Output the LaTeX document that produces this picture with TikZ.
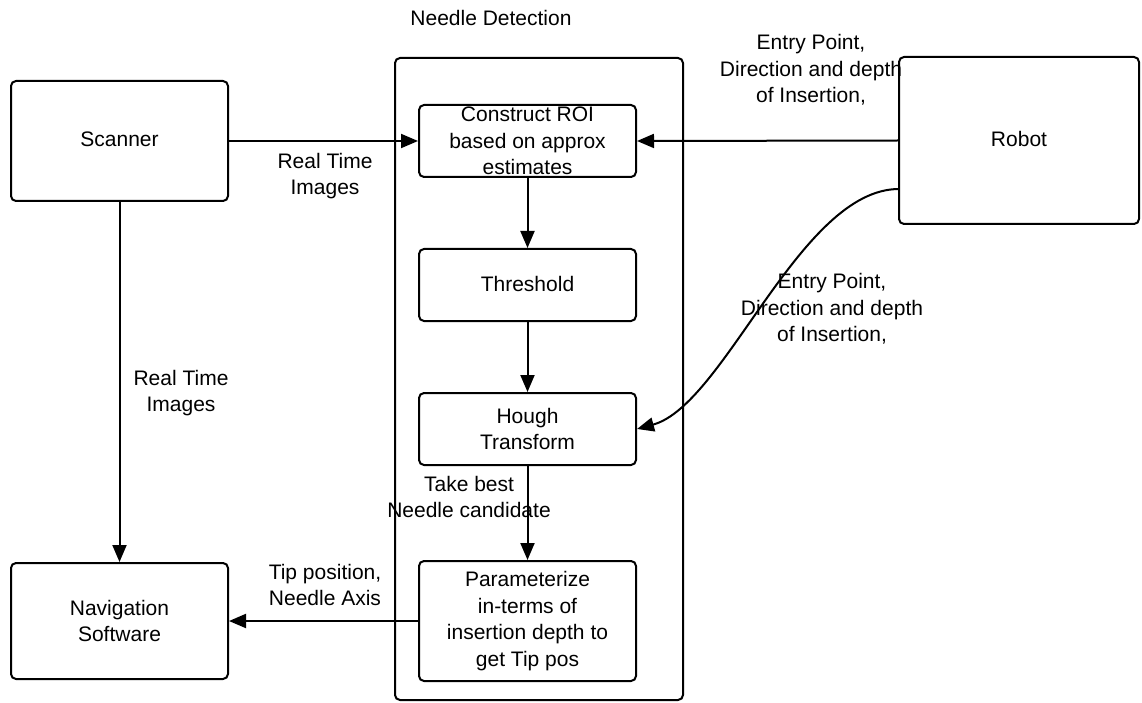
\documentclass[tikz,border=0pt]{standalone}
\usepackage{fontspec}
\setmainfont{Liberation Sans}
\usetikzlibrary{arrows.meta}
\tikzset{
  box/.style={draw, line width=2pt, rounded corners=5pt, align=center, inner sep=0pt},
  lbl/.style={align=center, inner sep=0pt},
  conn/.style={line width=2pt, -{Triangle[length=17pt,width=14pt]}},
}
\begin{document}
\begin{tikzpicture}[x=1pt,y=-1pt, font=\fontsize{21}{26.5}\selectfont]
\useasboundingbox (0,0) rectangle (1142,703);
% container
\node[box, minimum width=288pt, minimum height=642pt] (nd) at (539,379) {};
\node[lbl] (ndt) at (491,18) {Needle Detection};
% boxes
\node[box, minimum width=217pt, minimum height=120pt] (scan) at (119.5,141) {\raisebox{3pt}{Scanner}};
\node[box, minimum width=217pt, minimum height=72pt] (roi) at (527.5,141) {Construct ROI\\based on approx\\estimates};
\node[box, minimum width=217pt, minimum height=72pt] (thr) at (527.5,285) {\raisebox{3pt}{Threshold}};
\node[box, minimum width=217pt, minimum height=72pt] (hough) at (527.5,429) {Hough\\Transform};
\node[box, minimum width=217pt, minimum height=120pt] (param) at (527.5,621) {Parameterize\\in-terms of\\insertion depth to\\get Tip pos};
\node[box, minimum width=240pt, minimum height=167pt] (robot) at (1019,140.5) {\raisebox{3pt}{Robot}};
\node[box, minimum width=217pt, minimum height=116pt] (nav) at (119.5,621) {Navigation\\Software};
\coordinate (rs) at (899,189);
% connectors
\draw[conn] (scan.east) -- (roi.west);
\draw[conn] (robot.west) -- (roi.east);
\draw[conn] (roi.south) -- (thr.north);
\draw[conn] (thr.south) -- (hough.north);
\draw[conn] (hough.south) -- (param.north);
\draw[conn] (scan.south) -- (nav.north);
\draw[conn] (param.west) -- (nav.east);
\draw[conn] (rs) .. controls (800,189) and (725,405) .. (hough.east);
% labels
\node[lbl] (l1) at (325,176) {Real Time\\Images};
\node[lbl] (l2) at (811,70) {Entry Point,\\Direction and depth\\of Insertion,};
\node[lbl] (l3) at (832,309) {Entry Point,\\Direction and depth\\of Insertion,};
\node[lbl] (l4) at (181,393) {Real Time\\Images};
\node[lbl] (l5) at (469,497) {Take best\\Needle candidate};
\node[lbl] (l6) at (325,585) {Tip position,\\Needle Axis};
\end{tikzpicture}
\end{document}
